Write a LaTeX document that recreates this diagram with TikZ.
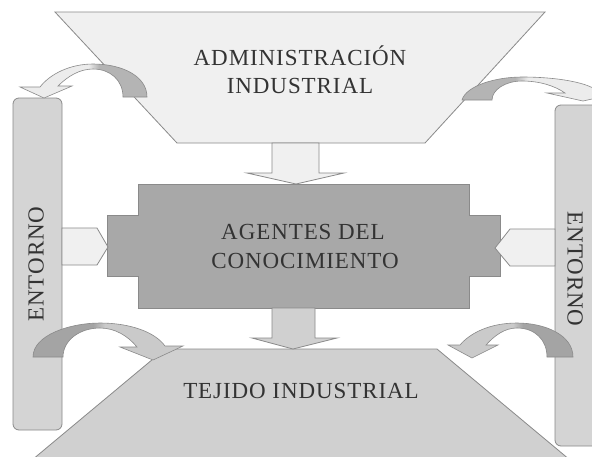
\documentclass[tikz,border=0pt]{standalone}
\usepackage{fontspec}
\setmainfont{Liberation Serif}[LetterSpace=4]
\definecolor{topfill}{HTML}{F0F0F0}
\definecolor{midfill}{HTML}{A8A8A8}
\definecolor{botfill}{HTML}{D0D0D0}
\definecolor{envfill}{HTML}{D4D4D4}
\definecolor{sidefill}{HTML}{F0F0F0}
\definecolor{edge}{HTML}{8A8A8A}
\definecolor{txt}{HTML}{333333}
\definecolor{tdark}{HTML}{B4B4B4}
\definecolor{tlight}{HTML}{ECECEC}
\definecolor{bdark}{HTML}{A4A4A4}
\definecolor{blight}{HTML}{CACACA}
\pgfdeclarehorizontalshading{cshTL}{100bp}{color(0bp)=(tlight); color(52bp)=(tlight); color(56bp)=(tdark); color(100bp)=(tdark)}
\pgfdeclarehorizontalshading{cshTR}{100bp}{color(0bp)=(tdark); color(42bp)=(tdark); color(46bp)=(tlight); color(100bp)=(tlight)}
\pgfdeclarehorizontalshading{cshBL}{100bp}{color(0bp)=(bdark); color(45bp)=(bdark); color(49bp)=(blight); color(100bp)=(blight)}
\pgfdeclarehorizontalshading{cshBR}{100bp}{color(0bp)=(blight); color(51bp)=(blight); color(55bp)=(bdark); color(100bp)=(bdark)}
\tikzset{
  shp/.style={draw=edge, line width=0.8pt, line join=miter},
  envbox/.style={draw=edge, line width=0.8pt, fill=envfill, rounded corners=6pt},
  carrow/.style={draw=edge, line width=0.6pt, line join=miter},
  lbl/.style={text=txt, font=\fontsize{23}{27}\selectfont, inner sep=0pt},
}
\begin{document}
\begin{tikzpicture}[x=1pt,y=-1pt]
\useasboundingbox (0,0) rectangle (592,456);
\clip (0,0) rectangle (592,456);
\fill[white] (0,0) rectangle (592,456);
% side boxes
\draw[envbox] (13,98) rectangle (62,430);
\draw[envbox] (555,105) rectangle (625,446);
% top trapezoid
\draw[shp, fill=topfill] (55,12) -- (545,12) -- (425,143) -- (177,143) -- cycle;
% bottom trapezoid
\draw[shp, fill=botfill] (165,349) -- (437,349) -- (582,470) -- (20,470) -- cycle;
% middle box
\draw[shp, fill=midfill] (138,184) -- (469,184) -- (469,215) -- (500,215) -- (500,276) -- (469,276) -- (469,308) -- (138,308) -- (138,276) -- (107,276) -- (107,215) -- (138,215) -- cycle;
% down arrows
\draw[shp, fill=topfill] (272,143) -- (319,143) -- (319,173) -- (344,173) -- (296,184) -- (247,173) -- (272,173) -- cycle;
\draw[shp, fill=botfill] (272,308) -- (315,308) -- (315,338) -- (337,338) -- (293,349) -- (252,338) -- (272,338) -- cycle;
% side arrows
\draw[shp, fill=sidefill] (62,228) -- (97,228) -- (108,247) -- (97,265) -- (62,265) -- cycle;
\draw[shp, fill=sidefill] (555,229) -- (510,229) -- (495,248) -- (510,266) -- (555,266) -- cycle;
% curved arrows
\path[carrow, shading=cshTL] (147,97) .. controls (147,76) and (122,64) .. (93,64) .. controls (70,64) and (50,74) .. (40,87) -- (20,87) -- (44,98) -- (72,86) -- (58,86) .. controls (68,76) and (80,69) .. (93,69) .. controls (110,69) and (123,80) .. (123,97) -- cycle;
\path[carrow, shading=cshTR] (462,100) .. controls (466,86) and (495,77) .. (522,77) .. controls (555,77) and (590,82) .. (600,93) -- (619,93) -- (583,101) -- (547,93) -- (565,93) .. controls (555,86) and (540,81) .. (522,81) .. controls (505,81) and (492,90) .. (492,100) -- cycle;
\path[carrow, shading=cshBL] (33,357) .. controls (33,335) and (70,323) .. (100,323) .. controls (130,323) and (155,332) .. (165,346) -- (183,346) -- (153,360) -- (120,347) -- (137,347) .. controls (128,336) and (115,328) .. (100,328) .. controls (80,328) and (63,340) .. (63,357) -- cycle;
\path[carrow, shading=cshBR] (573,357) .. controls (573,335) and (545,323) .. (517,323) .. controls (490,323) and (470,333) .. (460,345) -- (448,345) -- (472,358) -- (498,345) -- (486,345) .. controls (495,335) and (505,328) .. (517,328) .. controls (535,328) and (547,340) .. (547,357) -- cycle;
% labels
\node[lbl, anchor=base] (adm1) at (300,65) {ADMINISTRACIÓN};
\node[lbl, anchor=base] (adm2) at (300,93) {INDUSTRIAL};
\node[lbl, anchor=base] (age1) at (303,239) {AGENTES DEL};
\node[lbl, anchor=base] (age2) at (305,268) {CONOCIMIENTO};
\node[lbl, anchor=base] (tej) at (301,398) {TEJIDO INDUSTRIAL};
\node[lbl, rotate=90] (entl) at (36,264) {ENTORNO};
\node[lbl, rotate=-90] (entr) at (575,269) {ENTORNO};
\end{tikzpicture}
\end{document}
